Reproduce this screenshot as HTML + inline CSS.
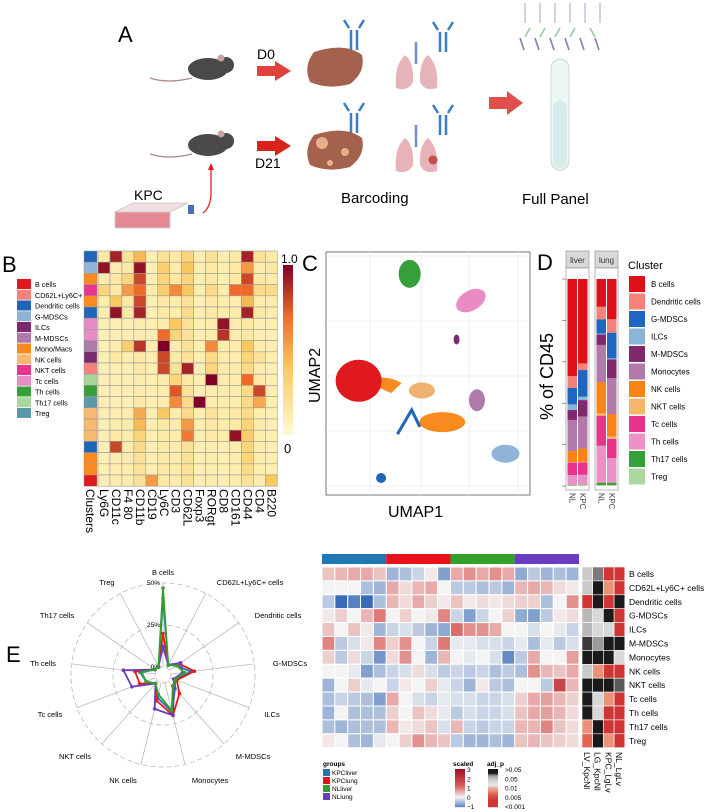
<!DOCTYPE html>
<html><head><meta charset="utf-8">
<style>
html,body{margin:0;padding:0;background:#fff;}
svg{display:block;font-family:"Liberation Sans",sans-serif;}
</style></head>
<body>
<svg id="fig" width="709" height="812" viewBox="0 0 709 812" xmlns="http://www.w3.org/2000/svg">
<!-- Panel A illustration -->
<g id="panelA">
  <text x="118" y="42" font-size="22">A</text>
  <g>
    <path d="M150 78 Q168 84 192 78" stroke="#aa8a88" stroke-width="1.3" fill="none"/>
    <ellipse cx="208" cy="69" rx="20" ry="11" fill="#4a4849"/>
    <ellipse cx="226" cy="65" rx="8" ry="8" fill="#4a4849"/>
    <circle cx="221" cy="58" r="3.5" fill="#c9a0a2"/>
  </g>
  <g>
    <path d="M150 154 Q168 160 192 154" stroke="#aa8a88" stroke-width="1.3" fill="none"/>
    <ellipse cx="208" cy="145" rx="20" ry="11" fill="#4a4849"/>
    <ellipse cx="226" cy="141" rx="8" ry="8" fill="#4a4849"/>
    <circle cx="221" cy="134" r="3.5" fill="#c9a0a2"/>
  </g>
  <text x="257" y="59" font-size="14">D0</text>
  <path d="M257 66 h18 v-5 l16 10 l-16 10 v-5 h-18z" fill="#e0413a"/>
  <text x="255" y="168" font-size="14">D21</text>
  <path d="M257 141 h18 v-5 l16 10 l-16 10 v-5 h-18z" fill="#d8231c"/>
  <path d="M314 52 Q345 42 362 55 Q366 72 350 84 Q328 90 310 82 Q303 66 314 52z" fill="#a4614e"/>
  <path d="M314 135 Q345 125 362 138 Q366 155 350 167 Q328 173 310 165 Q303 149 314 135z" fill="#a4614e"/>
  <circle cx="322" cy="143" r="6" fill="#e8b087"/><circle cx="345" cy="152" r="4" fill="#e8b087"/><circle cx="330" cy="163" r="3" fill="#e8b087"/>
  <g>
    <path d="M416 42 v22" stroke="#6f8fc8" stroke-width="2.5"/>
    <path d="M405 55 Q394 65 396 88 Q408 92 413 82 Q414 62 405 55z" fill="#e6b3b8"/>
    <path d="M428 55 Q439 65 437 88 Q425 92 420 82 Q419 62 428 55z" fill="#e6b3b8"/>
  </g>
  <g>
    <path d="M416 125 v22" stroke="#6f8fc8" stroke-width="2.5"/>
    <path d="M405 138 Q394 148 396 171 Q408 175 413 165 Q414 145 405 138z" fill="#e6b3b8"/>
    <path d="M428 138 Q439 148 437 171 Q425 175 420 165 Q419 145 428 138z" fill="#e6b3b8"/>
    <circle cx="433" cy="160" r="4.5" fill="#c0504a"/>
  </g>
  <g fill="none" stroke="#3c7cc0" stroke-width="2.5">
    <path d="M351 30 v20 M357 30 v20 M349 28 l-5 -8 M359 28 l5 -8"/>
    <path d="M440 32 v20 M446 32 v20 M438 30 l-5 -8 M448 30 l5 -8"/>
    <path d="M351 113 v20 M357 113 v20 M349 111 l-5 -8 M359 111 l5 -8"/>
    <path d="M440 115 v20 M446 115 v20 M438 113 l-5 -8 M448 113 l5 -8"/>
  </g>
  <path d="M489 97 h18 v-6 l16 12 l-16 12 v-6 h-18z" fill="#e0504a"/>
  <g stroke-width="1.6" fill="none">
    <path d="M525 3 v20 M540 3 v20 M555 3 v20 M570 3 v20 M585 3 v20 M600 3 v20" stroke="#d0c0dc"/>
    <path d="M520 38 l4 12 M535 38 l4 12 M550 38 l4 12 M565 38 l4 12 M580 38 l4 12 M595 38 l4 12" stroke="#8a7aaa"/>
    <path d="M530 28 l-5 9 M545 28 l-5 9 M560 28 l-5 9 M575 28 l-5 9 M590 28 l5 9" stroke="#9ac89a"/>
  </g>
  <rect x="551" y="59" width="18" height="111" rx="9" fill="#eef5f5" stroke="#c8d8d8"/>
  <rect x="553" y="100" width="14" height="68" rx="7" fill="#d8ecec"/>
  <text x="134" y="200" font-size="14">KPC</text>
  <path d="M115 212 l18 -9 h55 l-18 9 z" fill="#f2dfe2" stroke="#ccc"/>
  <path d="M115 212 h55 v16 h-55z" fill="#e58a95" stroke="#ccc"/>
  <rect x="188" y="205" width="6" height="9" fill="#4a6fb8"/>
  <path d="M203 213 Q210 208 211 195 V168" stroke="#e02020" stroke-width="1.3" fill="none"/>
  <path d="M208 170 l3 -7 l3 7z" fill="#e02020"/>
  <text x="341" y="203" font-size="15">Barcoding</text>
  <text x="522" y="204" font-size="15">Full Panel</text>
</g>

<!-- Panel B -->
<g id="panelB">
  <text x="2" y="272" font-size="22">B</text>
  <g id="bLegend"></g><g id="bGrid"></g><g id="bLabels"></g>
  <defs><linearGradient id="gB" x1="0" y1="1" x2="0" y2="0">
    <stop offset="0" stop-color="#fffbd0"/><stop offset="0.4" stop-color="#f9c860"/><stop offset="0.7" stop-color="#ef6a2a"/><stop offset="1" stop-color="#7f0025"/></linearGradient></defs>
  <rect x="283" y="265" width="10" height="170" fill="url(#gB)"/>
  <text x="281" y="263" font-size="12">1.0</text>
  <text x="284" y="453" font-size="13">0</text>
</g>

<!-- Panel C -->
<g id="panelC">
  <text x="302" y="271" font-size="22">C</text>
  <rect x="326" y="252" width="204" height="243" fill="#fff" stroke="#555" stroke-width="0.8"/>
  <g stroke="#ececec" stroke-width="0.8">
    <path d="M370 252V495M421 252V495M469 252V495M518 252V495M326 256H530M326 321H530M326 376H530M326 431H530M326 486H530"/>
  </g>
  <g id="umapBlobs"></g>
  <text x="388" y="517" font-size="16">UMAP1</text>
  <text transform="translate(320 403) rotate(-90)" font-size="16">UMAP2</text>
</g>

<!-- Panel D -->
<g id="panelD">
  <text x="537" y="270" font-size="22">D</text>
  <text transform="translate(553 420) rotate(-90)" font-size="18">% of CD45</text>
  <g id="dBars"></g><g id="dLegend"></g>
  <text x="628" y="269" font-size="11">Cluster</text>
</g>

<!-- Panel E -->
<g id="panelE">
  <text x="6" y="662" font-size="22">E</text>
  <g id="radar"></g>
  <g id="eHeat"></g>
</g>
</svg>

<script>
const NS = "http://www.w3.org/2000/svg";
function mk(tag, attrs, parent) {
  const e = document.createElementNS(NS, tag);
  for (const k in attrs) e.setAttribute(k, attrs[k]);
  parent.appendChild(e);
  return e;
}

/* ---------- Panel B data ---------- */
const bMarkers = ["Ly6G","CD11c","F4 80","CD11b","CD19","Ly6C","CD3","CD62L","Foxp3","RORgt","CD8","CD161","CD44","CD4","B220"];
const bLegendNames = ["B cells","CD62L+Ly6C+","Dendritic cells","G-MDSCs","ILCs","M-MDSCs","Mono/Macs","NK cells","NKT cells","Tc cells","Th cells","Th17 cells","Treg"];
const bLegendColors = ["#e0191e","#f4817a","#1f66b8","#8fb4d8","#7b2a6e","#b07aa8","#f98a20","#f8b870","#e8348e","#e98cc4","#35a03a","#a9d69a","#5b9aa8"];
const bRowClusters = [2,3,6,8,6,2,9,9,5,4,1,11,10,12,7,7,7,2,6,6,0];
const bValues = [
 [.15,.9,.2,.45,.1,.2,.15,.3,.1,.2,.1,.15,.9,.2,.15],
 [.95,.12,.15,.95,.1,.35,.12,.4,.1,.15,.1,.15,.55,.12,.15],
 [.12,.15,.3,.8,.1,.3,.15,.3,.1,.15,.1,.15,.8,.15,.12],
 [.3,.15,.55,.7,.12,.35,.6,.4,.12,.25,.12,.7,.7,.25,.25],
 [.12,.4,.15,.8,.1,.15,.12,.2,.1,.15,.12,.12,.45,.12,.12],
 [.12,.95,.15,.9,.1,.15,.12,.25,.1,.15,.12,.12,.9,.15,.12],
 [.1,.1,.1,.12,.1,.12,.4,.2,.1,.12,.95,.12,.15,.1,.1],
 [.1,.1,.1,.12,.1,.7,.3,.2,.1,.12,.85,.12,.15,.1,.1],
 [.1,.12,.35,.85,.1,1.0,.12,.2,.1,.6,.12,.12,.4,.12,.1],
 [.1,.15,.12,.15,.1,.8,.12,.2,.1,.25,.12,.12,.3,.2,.1],
 [.1,.1,.1,.15,.1,.8,.2,.9,.1,.3,.12,.12,.25,.12,.1],
 [.1,.1,.1,.12,.1,.12,.3,.15,.1,1.0,.12,.12,.7,.15,.1],
 [.1,.1,.1,.12,.1,.12,.75,.2,.1,.12,.12,.12,.25,.8,.1],
 [.1,.1,.1,.15,.1,.12,.6,.25,1.0,.12,.12,.12,.25,.5,.1],
 [.1,.12,.12,.5,.1,.4,.12,.25,.1,.2,.12,.15,.25,.12,.1],
 [.1,.12,.12,.45,.1,.15,.12,.55,.1,.15,.12,.15,.3,.12,.1],
 [.1,.15,.12,.3,.1,.15,.12,.65,.1,.15,.12,.95,.35,.12,.1],
 [.1,.8,.12,.25,.1,.15,.12,.2,.1,.12,.1,.12,.3,.12,.1],
 [.1,.12,.12,.2,.1,.15,.12,.2,.1,.12,.1,.12,.3,.12,.1],
 [.1,.12,.12,.2,.1,.15,.12,.2,.1,.12,.1,.12,.25,.12,.1],
 [.1,.12,.12,.2,.55,.15,.12,.2,.1,.12,.1,.12,.2,.12,.4]
];
function lerpC(a,b,t){const pa=[1,3,5].map(i=>parseInt(a.substr(i,2),16)),pb=[1,3,5].map(i=>parseInt(b.substr(i,2),16));return "rgb("+pa.map((v,i)=>Math.round(v+(pb[i]-v)*t)).join(",")+")";}
function scaleB(v){const st=[[0,"#fffbd0"],[.4,"#f9c860"],[.7,"#ef6a2a"],[1,"#7f0025"]];v=Math.max(0,Math.min(1,v));for(let i=1;i<st.length;i++){if(v<=st[i][0]){return lerpC(st[i-1][1],st[i][1],(v-st[i-1][0])/(st[i][0]-st[i-1][0]));}}return st[3][1];}
(function(){
  const g=document.getElementById("bGrid"), lg=document.getElementById("bLegend"), lb=document.getElementById("bLabels");
  const x0=98, cw=11.95, y0=251, rh=11.2;
  bValues.forEach((row,r)=>{
    const cc=mk("rect",{x:84,y:y0+r*rh,width:13,height:rh,fill:bLegendColors[bRowClusters[r]],stroke:"#999","stroke-width":0.5},g);
    
    
    row.forEach((v,c)=>{
      const e=mk("rect",{x:x0+c*cw,y:y0+r*rh,width:cw,height:rh,fill:scaleB(v),stroke:"#9a9a9a","stroke-width":0.6},g);
      
      
    });
  });
  bMarkers.concat(["Clusters"]).forEach((m,i)=>{
    const x = m==="Clusters" ? 86 : x0+(i)*cw+2;
    const t=mk("text",{transform:`translate(${x} 489) rotate(90)`,"font-size":12},lb);
    t.textContent=m;
    
    
  });
  bLegendNames.forEach((n,i)=>{
    const y=279+i*10.75;
    const s=mk("rect",{x:17,y:y,width:14,height:10,fill:bLegendColors[i]},lg);
    
    
    const t=mk("text",{x:35,y:y+8,"font-size":7.2},lg);
    t.textContent=n;
    
    
  });
})();

/* ---------- Panel C (UMAP clusters) ---------- */
const umapClusters = ["Th","Tc","B","NKT","NK","Mono","G-MDSC","DC"];
const umapX = [0.41,0.71,0.16,0.47,0.57,0.74,0.88,0.27];
const umapY = [0.91,0.80,0.47,0.43,0.30,0.39,0.17,0.07];
const umapColors = ["#35a03a","#e98cc4","#e0191e","#f0b070","#f98a20","#b07aa8","#8fb4d8","#1f66b8"];
const umapRx = [11,16,23,13,23,8,14,5];
const umapRy = [14,10,21,8,10,11,9,5];
(function(){
  const g=document.getElementById("umapBlobs");
  const X=v=>326+v*204, Y=v=>495-v*243;
  const tail=mk("path",{d:`M${X(.18)} ${Y(.47)} Q${X(.3)} ${Y(.5)} ${X(.37)} ${Y(.46)} L${X(.32)} ${Y(.42)}z`,fill:"#f98a20"},g);
  
  
  umapClusters.forEach((c,i)=>{
    const e=mk("ellipse",{cx:X(umapX[i]),cy:Y(umapY[i]),rx:umapRx[i],ry:umapRy[i],fill:umapColors[i],transform:c==="Tc"?`rotate(-30 ${X(umapX[i])} ${Y(umapY[i])})`:""},g);
    
    
  });
  const s=mk("path",{d:`M${X(.35)} ${Y(.25)} L${X(.42)} ${Y(.35)} L${X(.46)} ${Y(.28)}`,stroke:"#1f66b8","stroke-width":3,fill:"none"},g);
  
  
  const m=mk("ellipse",{cx:X(.64),cy:Y(.64),rx:3,ry:5,fill:"#7b2a6e"},g);
  
  
})();

/* ---------- Panel D data ---------- */
const dClusters = ["B cells","Dendritic cells","G-MDSCs","ILCs","M-MDSCs","Monocytes","NK cells","NKT cells","Tc cells","Th cells","Th17 cells","Treg"];
const dColors = ["#e0101a","#f4827a","#1f66c0","#8ab4d8","#80286e","#b27aaa","#f78414","#f8b66c","#e8338c","#ec90c8","#35a03a","#acd8a0"];
const dLiverNL = [47,5.6,8,2.7,4.8,15,5.3,0.3,6,4.8,0.2,0.3];
const dLiverKPC = [41,3.2,13,1.6,8,15.5,6.5,0.3,6,4.8,0.2,0.4];
const dLungNL = [13.4,6,6.8,0.5,5,18,15,1,14.5,17.7,1.1,0.5];
const dLungKPC = [19.5,6.5,12.4,0.5,9,17.4,11,1,9.4,11.8,1.1,0.5];
(function(){
  const g=document.getElementById("dBars"), lg=document.getElementById("dLegend");
  const yTop=279, yBot=486, H=yBot-yTop;
  const facets=[["liver",566,[["NL",dLiverNL],["KPC",dLiverKPC]]],["lung",595,[["NL",dLungNL],["KPC",dLungKPC]]]];
  facets.forEach(([name,fx,bars])=>{
    const hdr=mk("rect",{x:fx,y:251,width:23,height:17,fill:"#d9d9d9",stroke:"#888","stroke-width":0.6},g);
    
    
    const ht=mk("text",{x:fx+11.5,y:263,"font-size":8,"text-anchor":"middle",fill:"#333"},g);
    ht.textContent=name;
    
    
    const pf=mk("rect",{x:fx,y:268,width:23,height:222,fill:"#fff",stroke:"#888","stroke-width":0.6},g);
    
    
    bars.forEach(([lab,vals],bi)=>{
      const tot=vals.reduce((a,b)=>a+b,0);
      let y=yTop;
      const bx=fx+1.5+bi*10.5;
      vals.forEach((v,k)=>{
        const h=v/tot*H;
        const r=mk("rect",{x:bx,y:y,width:9.5,height:h,fill:dColors[k]},g);
        
        
        y+=h;
      });
      const t=mk("text",{transform:`translate(${bx+2} 493) rotate(90)`,"font-size":8,fill:"#444"},g);
      t.textContent=lab;
      
      
    });
  });
  for(let i=0;i<=5;i++){
    const tk=mk("line",{x1:562,x2:566,y1:yBot-i*H/5,y2:yBot-i*H/5,stroke:"#555","stroke-width":0.6},g);
    
    
  }
  dClusters.forEach((n,i)=>{
    const y=276+i*17.5;
    const s=mk("rect",{x:629,y:y,width:16,height:16,fill:dColors[i]},lg);
    
    
    const t=mk("text",{x:651,y:y+11,"font-size":8},lg);
    t.textContent=n;
    
    
  });
})();

/* ---------- Panel E radar data ---------- */
const radarCats = ["B cells","CD62L+Ly6C+ cells","Dendritic cells","G-MDSCs","ILCs","M-MDSCs","Monocytes","NK cells","NKT cells","Tc cells","Th cells","Th17 cells","Treg"];
const radarKPCliver = [41,2,5,12,3,6,18,9,2,6,9,1,1];
const radarKPClung = [20,2,7,14,4,10,20,11,2,10,12,1,1];
const radarNLlung = [12,2,8,7,2,5,20,16,2,15,19,1,1];
const radarNLliver = [47,2,5,8,3,4,17,7,2,6,8,1,1];
const radarTicks = ["0%","25%","50%"];
const radarTickVals = [0,25,50];
const radarLabelX = [163,250,278,290,272,253,210,123,75,50,43,57,107];
const radarLabelY = [575,585,618,666,717,759,783,783,759,717,666,618,585];
(function(){
  const g=document.getElementById("radar");
  const cx=163, cy=675, rr=v=>8+v*1.68, n=radarCats.length;
  const ang=i=>i*2*Math.PI/n;
  radarTickVals.forEach((v,i)=>{
    const c=mk("circle",{cx,cy,r:rr(v),fill:"none",stroke:"#bbb","stroke-dasharray":"5 3","stroke-width":0.8},g);
    
    
  });
  radarCats.forEach((c,i)=>{
    const a=ang(i);
    const l=mk("line",{x1:cx+rr(0)*Math.sin(a),y1:cy-rr(0)*Math.cos(a),x2:cx+rr(50)*Math.sin(a),y2:cy-rr(50)*Math.cos(a),stroke:"#bbb","stroke-width":0.8},g);
    
    
    const t=mk("text",{x:radarLabelX[i],y:radarLabelY[i],"font-size":7.5,"text-anchor":"middle"},g);
    t.textContent=c;
    
    
  });
  radarTicks.forEach((s,i)=>{
    const t=mk("text",{x:cx-3,y:cy-rr(radarTickVals[i])+2,"font-size":6.5,"text-anchor":"end"},g);
    t.textContent=s;
    
    
  });
  const series=[["kpcliver",radarKPCliver,"#1f78b4"],["kpclung",radarKPClung,"#e41a1c"],["nllung",radarNLlung,"#6a3dc0"],["nlliver",radarNLliver,"#33a02c"]];
  series.forEach(([nm,vals,col])=>{
    const pts=vals.map((v,i)=>[cx+rr(v)*Math.sin(ang(i)),cy-rr(v)*Math.cos(ang(i))]);
    const p=mk("polygon",{points:pts.map(p=>p.join(",")).join(" "),fill:"none",stroke:col,"stroke-width":1.8},g);
    
    
    pts.forEach(q=>{
      const d=mk("circle",{cx:q[0],cy:q[1],r:1.8,fill:col},g);
      
      
    });
  });
})();

/* ---------- Panel E heatmap data ---------- */
const eRows = ["B cells","CD62L+Ly6C+ cells","Dendritic cells","G-MDSCs","ILCs","M-MDSCs","Monocytes","NK cells","NKT cells","Tc cells","Th cells","Th17 cells","Treg"];
const eGroups = ["KPCliver","KPClung","NLliver","NLlung"];
const eGroupColors = ["#1f78b4","#e8131a","#33a02c","#6a3dc0"];
const eScaled = [
 [.4,.5,.6,.6,.4,-.6,-.5,-.3,.1,-.8,.6,.8,.6,.8,.6,-.7,-.4,-.6,-.5,-.6],
 [0,0,0,-.5,-.6,.6,.2,.5,.6,0,-.4,-.4,-.5,-.4,-.6,.5,.6,.5,.2,.1],
 [-.4,-1.3,-1.1,-1.3,-.5,.5,.2,.6,.3,.1,.4,.1,.2,.1,.2,.3,.3,-.5,0,.8],
 [.1,.3,0,.5,1.0,0,.3,0,.1,.9,-.3,-.8,-.3,0,.3,-.7,-.8,-.4,.1,.2],
 [.4,0,.4,.1,-.6,-.3,-.2,-.4,-.6,-.7,1.1,.8,.8,.6,0,0,-.2,0,-.1,-.3],
 [.9,-.4,-.2,.1,.9,.3,.8,0,-.3,1.0,-.1,-.1,-.2,-.2,-.3,-.1,-.5,-.1,-.4,-.2],
 [.3,-.4,.2,-.3,-.9,.2,.8,0,-.6,.5,0,-.1,0,-.2,-1.0,-.4,.6,0,0,.7],
 [0,0,-.1,-.8,-.5,-.3,-.2,.2,-.2,-.4,-.3,-.4,-.3,-.5,-.4,-.5,.8,.5,.4,.6],
 [-.6,0,.3,-.1,0,-.3,.1,0,.3,-.1,-.3,-.6,.1,-.4,-.5,0,0,-.4,1.8,.5],
 [-.5,-.3,-.4,-.5,-.8,.6,0,-.2,-.3,-.1,-.2,-.2,-.3,-.3,-.2,.3,.6,.7,.5,.3],
 [-.6,0,-.5,-.5,-.5,.3,0,.4,.2,-.1,-.4,-.2,-.3,-.3,-.2,.4,.6,.7,.5,.2],
 [-.5,-.6,-.5,-.5,-.5,.5,.1,.2,.4,-.2,.5,-.3,-.4,-.3,-.3,.5,.5,.9,.4,.2],
 [.1,0,-.5,-.6,-.1,0,.3,.8,.5,.4,-.4,-.6,-.6,-.5,-.6,.4,.5,.4,.3,.2]
];
const eContrasts = ["LV_KpcNl","LG_KpcNl","KPC_LgLv","NL_LgLv"];
const eAdjP = [
 [0.03,0.07,0.0005,0.0005],
 [0.03,0.5,0.004,0.0005],
 [0.0005,0.5,0.0005,0.5],
 [0.04,0.02,0.5,0.0005],
 [0.04,0.02,0.02,0.0005],
 [0.09,0.06,0.5,0.5],
 [0.5,0.5,0.5,0.02],
 [0.03,0.004,0.0005,0.0005],
 [0.5,0.5,0.5,0.08],
 [0.5,0.02,0.004,0.0005],
 [0.5,0.02,0.0005,0.0005],
 [0.004,0.5,0.0005,0.0005],
 [0.002,0.5,0.004,0.0005]
];
function scaleE(v){
  if(v<0) return lerpC("#f4f4f4","#3a6cb6",Math.min(1,-v/1.3));
  if(v<=1.2) return lerpC("#f4f4f4","#d9605c",v/1.2);
  return lerpC("#d9605c","#a50f24",Math.min(1,(v-1.2)/1.8));
}
function scaleP(p){
  if(p>=0.1) return "#1a1a1a";
  if(p>=0.06) return lerpC("#1a1a1a","#9a9a9a",(0.1-p)/0.04);
  if(p>=0.01) return lerpC("#9a9a9a","#e8e8e8",(0.06-p)/0.05);
  if(p>=0.003) return lerpC("#e8e8e8","#e98466",(0.01-p)/0.007);
  return lerpC("#e98466","#d03535",Math.min(1,(0.003-p)/0.0025));
}
(function(){
  const g=document.getElementById("eHeat");
  const x0=322, cw=12.85, y0=567, rh=13.9;
  eGroups.forEach((gr,i)=>{
    const r=mk("rect",{x:x0+i*5*cw,y:554,width:5*cw,height:10,fill:eGroupColors[i]},g);
    
    
  });
  eScaled.forEach((row,r)=>{
    row.forEach((v,c)=>{
      const e=mk("rect",{x:x0+c*cw,y:y0+r*rh,width:cw,height:rh,fill:scaleE(v),stroke:"#fff","stroke-width":1},g);
      
      
    });
    eAdjP[r].forEach((p,c)=>{
      const e=mk("rect",{x:582+c*10.7,y:y0+r*rh,width:10.7,height:rh,fill:scaleP(p),stroke:"#fff","stroke-width":0.6},g);
      
      
    });
    const t=mk("text",{x:629,y:y0+r*rh+10,"font-size":8.5},g);
    t.textContent=eRows[r];
    
    
  });
  eContrasts.forEach((c,i)=>{
    const t=mk("text",{transform:`translate(${584+i*10.7} 752) rotate(90)`,"font-size":8.5},g);
    t.textContent=c;
    
    
  });
  const gt=mk("text",{x:323,y:766,"font-size":6.5,"font-weight":"bold"},g);
  gt.textContent="groups";
  
  
  eGroups.forEach((gr,i)=>{
    const s=mk("rect",{x:323,y:769+i*8,width:7,height:7,fill:eGroupColors[i]},g);
    
    
    const t=mk("text",{x:332,y:775+i*8,"font-size":6.5},g);
    t.textContent=gr;
    
    
  });
  const st=mk("text",{x:453,y:766,"font-size":6.5,"font-weight":"bold"},g);
  st.textContent="scaled";
  
  
  const sLabs=["3","2","1","0","\u22121"];
  for(let i=0;i<38;i++){
    const v=3-4*i/37;
    const r=mk("rect",{x:455,y:769+i,width:10,height:1.2,fill:scaleE(v)},g);
    
    
  }
  sLabs.forEach((s,i)=>{
    const t=mk("text",{x:467,y:772+i*9.3,"font-size":6.5},g);
    t.textContent=s;
    
    
  });
  const pt=mk("text",{x:487,y:766,"font-size":6.5,"font-weight":"bold"},g);
  pt.textContent="adj_p";
  
  
  const pLabs=[">0.05","0.05","0.01","0.005","<0.001"];
  for(let i=0;i<38;i++){
    const p=Math.pow(10,-0.7-3*i/37);
    const r=mk("rect",{x:488,y:769+i,width:10,height:1.2,fill:scaleP(p)},g);
    
    
  }
  pLabs.forEach((s,i)=>{
    const t=mk("text",{x:505,y:772+i*9.3,"font-size":6.5},g);
    t.textContent=s;
    
    
  });
})();
</script>
</body></html>
